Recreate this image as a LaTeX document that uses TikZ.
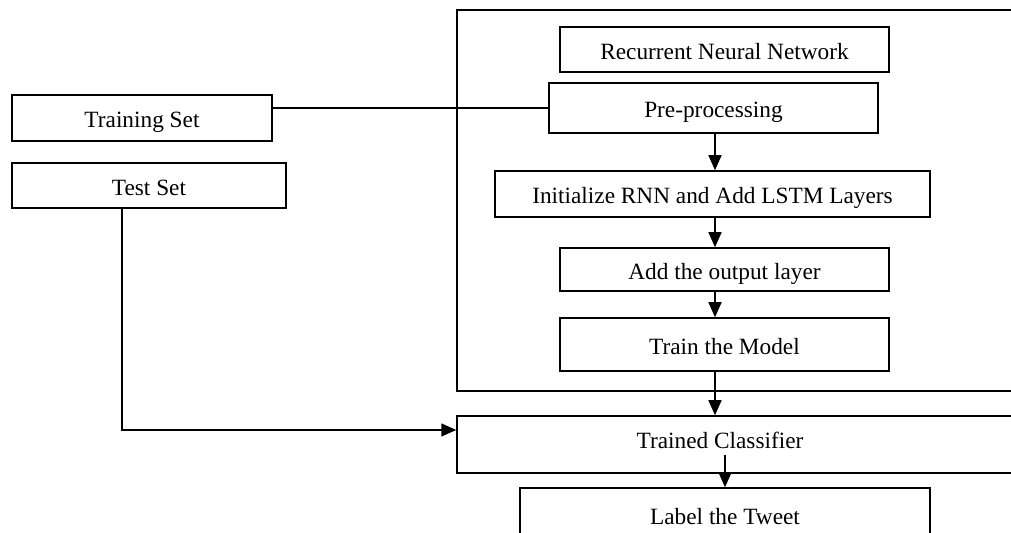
\documentclass[tikz,border=0pt]{standalone}
\usepackage{fontspec}
\setmainfont{Liberation Serif}
\usetikzlibrary{arrows.meta}
\begin{document}
\begin{tikzpicture}[x=0.5pt,y=-0.5pt,
  box/.style={draw,line width=0.75pt,inner sep=0pt,rectangle,text height=9.7pt,text depth=0pt},
  lbl/.style={inner sep=1pt,text height=7.7pt,text depth=0pt},
  link/.style={line width=0.75pt},
  arr/.style={line width=0.75pt,-{Triangle[length=7.5pt,width=6.5pt]}},
  font=\fontsize{11.65}{14}\selectfont]
\useasboundingbox (0,0) rectangle (1011,533);
\clip (0,0) rectangle (1011,533);

% RNN frame and its stages
\node[draw,line width=0.75pt,inner sep=0pt,minimum width=291.5pt,minimum height=190.5pt] (frame) at (748.5,200.5) {};
\node[box,minimum width=164.5pt,minimum height=22.5pt] (rnn) at (724.5,49.5) {Recurrent Neural Network};
\node[box,minimum width=164.5pt,minimum height=25pt] (pre) at (713.5,108) {Pre-processing};
\node[box,minimum width=217.5pt,minimum height=23pt] (init) at (712.5,194) {Initialize RNN and Add LSTM Layers};
\node[box,minimum width=164.5pt,minimum height=21.5pt] (outl) at (724.5,269.5) {Add the output layer};
\node[box,minimum width=164.5pt,minimum height=26.5pt] (train) at (724.5,344.5) {Train the Model};

% inputs
\node[box,minimum width=130pt,minimum height=23pt] (trainset) at (142,118) {Training Set};
\node[box,minimum width=137pt,minimum height=22.5pt] (testset) at (149,185.5) {Test Set};

% classifier and output
\node[draw,line width=0.75pt,inner sep=0pt,minimum width=291.5pt,minimum height=28.5pt] (cls) at (748.5,444.5) {};
\node[lbl] (clstxt) at (720,441) {Trained Classifier};
\node[box,minimum width=205pt,minimum height=26.5pt] (label) at (725,514.5) {Label the Tweet};

% connectors
\coordinate (spine) at (715,0);
\coordinate (tturn) at (122,430);
\draw[link] (trainset.east |- pre.west) -- (pre.west);
\draw[arr] (pre.south -| spine) -- (init.north -| spine);
\draw[arr] (init.south -| spine) -- (outl.north -| spine);
\draw[arr] (outl.south -| spine) -- (train.north -| spine);
\draw[arr] (train.south -| spine) -- (cls.north -| spine);
\draw[arr] (testset.south -| tturn) -- (tturn) -- (cls.west |- tturn);
\draw[arr] ([yshift=-2pt]label.north |- clstxt.south) -- (label.north);
\end{tikzpicture}
\end{document}
